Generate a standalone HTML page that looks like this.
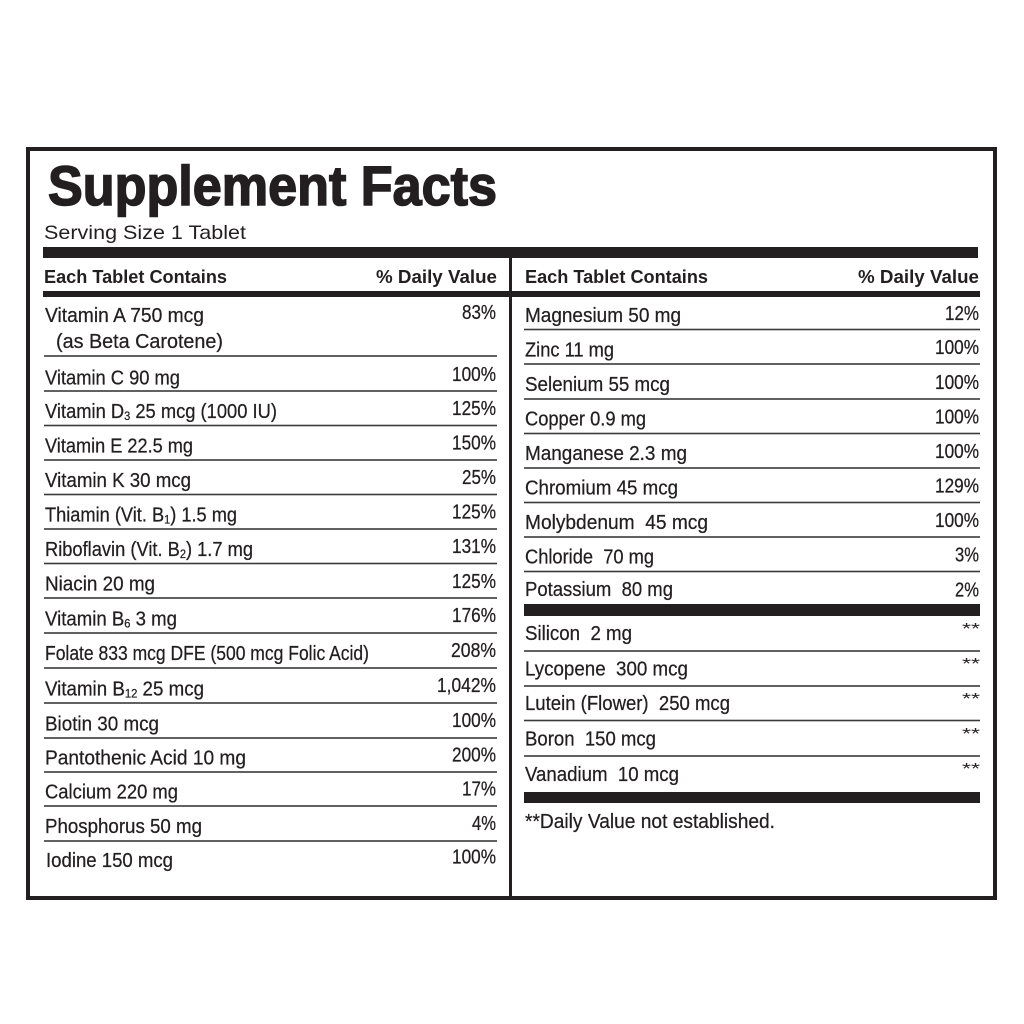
<!DOCTYPE html>
<html><head><meta charset="utf-8"><style>
html,body{margin:0;padding:0;background:#fff;}
svg{display:block;}
text{font-family:"Liberation Sans Narrow","Liberation Sans",Arial,sans-serif;fill:#231f20;white-space:pre;}
.n{font-size:20px;stroke:#231f20;stroke-width:0.25;}
.v{font-size:20px;text-anchor:end;stroke:#231f20;stroke-width:0.25;}
.a{font-size:16px;text-anchor:end;}
.h{font-size:18.5px;font-weight:bold;}
.st{font-size:12px;}
</style></head><body>
<svg width="1024" height="1024" viewBox="0 0 1024 1024" xmlns="http://www.w3.org/2000/svg">
<rect x="0" y="0" width="1024" height="1024" fill="#fff"/>
<rect x="28" y="149" width="967" height="749" fill="none" stroke="#231f20" stroke-width="4"/>
<text x="48" y="205" font-size="56" font-weight="bold" textLength="449" lengthAdjust="spacingAndGlyphs" stroke="#231f20" stroke-width="1.6" style="font-family:'Liberation Sans Narrow','Liberation Sans',Arial,sans-serif">Supplement Facts</text>
<text x="44" y="239" font-size="19.5" textLength="202" lengthAdjust="spacingAndGlyphs" style="font-family:'Liberation Sans',Arial,sans-serif">Serving Size 1 Tablet</text>
<rect x="43" y="247" width="935" height="11" fill="#231f20"/>
<rect x="43" y="291" width="937" height="6" fill="#231f20"/>
<rect x="509" y="258" width="3" height="639" fill="#231f20"/>
<rect x="524" y="604" width="456" height="12" fill="#231f20"/>
<rect x="524" y="792" width="456" height="11" fill="#231f20"/>
<text class="h" x="44" y="283" textLength="183" lengthAdjust="spacingAndGlyphs">Each Tablet Contains</text>
<text class="h" x="497" y="283" text-anchor="end" textLength="121" lengthAdjust="spacingAndGlyphs">% Daily Value</text>
<text class="h" x="525" y="283" textLength="183" lengthAdjust="spacingAndGlyphs">Each Tablet Contains</text>
<text class="h" x="979" y="283" text-anchor="end" textLength="121" lengthAdjust="spacingAndGlyphs">% Daily Value</text>
<g fill="#3a3a3a">
<rect x="44" y="355.2" width="453" height="1.6"/>
<rect x="44" y="390.2" width="453" height="1.6"/>
<rect x="44" y="424.7" width="453" height="1.6"/>
<rect x="44" y="459.2" width="453" height="1.6"/>
<rect x="44" y="493.7" width="453" height="1.6"/>
<rect x="44" y="528.2" width="453" height="1.6"/>
<rect x="44" y="562.7" width="453" height="1.6"/>
<rect x="44" y="597.2" width="453" height="1.6"/>
<rect x="44" y="632.2" width="453" height="1.6"/>
<rect x="44" y="667.2" width="453" height="1.6"/>
<rect x="44" y="702.2" width="453" height="1.6"/>
<rect x="44" y="737.2" width="453" height="1.6"/>
<rect x="44" y="771.2" width="453" height="1.6"/>
<rect x="44" y="805.2" width="453" height="1.6"/>
<rect x="44" y="840.2" width="453" height="1.6"/>
<rect x="524" y="328.7" width="456" height="1.6"/>
<rect x="524" y="363.2" width="456" height="1.6"/>
<rect x="524" y="398.2" width="456" height="1.6"/>
<rect x="524" y="432.7" width="456" height="1.6"/>
<rect x="524" y="467.2" width="456" height="1.6"/>
<rect x="524" y="501.7" width="456" height="1.6"/>
<rect x="524" y="536.2" width="456" height="1.6"/>
<rect x="524" y="570.7" width="456" height="1.6"/>
<rect x="524" y="650.2" width="456" height="1.6"/>
<rect x="524" y="685.2" width="456" height="1.6"/>
<rect x="524" y="719.7" width="456" height="1.6"/>
<rect x="524" y="755.2" width="456" height="1.6"/>
</g>
<text class="n" x="45" y="322" textLength="159" lengthAdjust="spacingAndGlyphs">Vitamin A 750 mcg</text>
<text class="n" x="56" y="348" textLength="167" lengthAdjust="spacingAndGlyphs">(as Beta Carotene)</text>
<text class="n" x="45" y="384.5" textLength="135" lengthAdjust="spacingAndGlyphs">Vitamin C 90 mg</text>
<text class="n" x="45" y="418" textLength="232" lengthAdjust="spacingAndGlyphs">Vitamin D<tspan class="st" dy="2">3</tspan><tspan dy="-2"> 25 mcg (1000 IU)</tspan></text>
<text class="n" x="45" y="452.5" textLength="148" lengthAdjust="spacingAndGlyphs">Vitamin E 22.5 mg</text>
<text class="n" x="45" y="487" textLength="146" lengthAdjust="spacingAndGlyphs">Vitamin K 30 mcg</text>
<text class="n" x="45" y="521.5" textLength="192" lengthAdjust="spacingAndGlyphs">Thiamin (Vit. B<tspan class="st" dy="2">1</tspan><tspan dy="-2">) 1.5 mg</tspan></text>
<text class="n" x="45" y="556" textLength="208" lengthAdjust="spacingAndGlyphs">Riboflavin (Vit. B<tspan class="st" dy="2">2</tspan><tspan dy="-2">) 1.7 mg</tspan></text>
<text class="n" x="45" y="590.5" textLength="110" lengthAdjust="spacingAndGlyphs">Niacin 20 mg</text>
<text class="n" x="45" y="625.5" textLength="132" lengthAdjust="spacingAndGlyphs">Vitamin B<tspan class="st" dy="2">6</tspan><tspan dy="-2"> 3 mg</tspan></text>
<text class="n" x="45" y="660" textLength="324" lengthAdjust="spacingAndGlyphs">Folate 833 mcg DFE (500 mcg Folic Acid)</text>
<text class="n" x="45" y="695.5" textLength="159" lengthAdjust="spacingAndGlyphs">Vitamin B<tspan class="st" dy="2">12</tspan><tspan dy="-2"> 25 mcg</tspan></text>
<text class="n" x="45" y="730.5" textLength="114" lengthAdjust="spacingAndGlyphs">Biotin 30 mcg</text>
<text class="n" x="45" y="764.5" textLength="201" lengthAdjust="spacingAndGlyphs">Pantothenic Acid 10 mg</text>
<text class="n" x="45" y="798.5" textLength="133" lengthAdjust="spacingAndGlyphs">Calcium 220 mg</text>
<text class="n" x="45" y="833" textLength="157" lengthAdjust="spacingAndGlyphs">Phosphorus 50 mg</text>
<text class="n" x="46" y="867" textLength="127" lengthAdjust="spacingAndGlyphs">Iodine 150 mcg</text>
<text class="v" x="496" y="319" textLength="34" lengthAdjust="spacingAndGlyphs">83%</text>
<text class="v" x="496" y="381" textLength="44" lengthAdjust="spacingAndGlyphs">100%</text>
<text class="v" x="496" y="415" textLength="44" lengthAdjust="spacingAndGlyphs">125%</text>
<text class="v" x="496" y="449.5" textLength="44" lengthAdjust="spacingAndGlyphs">150%</text>
<text class="v" x="496" y="484" textLength="34" lengthAdjust="spacingAndGlyphs">25%</text>
<text class="v" x="496" y="518.5" textLength="44" lengthAdjust="spacingAndGlyphs">125%</text>
<text class="v" x="496" y="553" textLength="44" lengthAdjust="spacingAndGlyphs">131%</text>
<text class="v" x="496" y="588" textLength="44" lengthAdjust="spacingAndGlyphs">125%</text>
<text class="v" x="496" y="622" textLength="44" lengthAdjust="spacingAndGlyphs">176%</text>
<text class="v" x="496" y="657" textLength="45" lengthAdjust="spacingAndGlyphs">208%</text>
<text class="v" x="496" y="692" textLength="59" lengthAdjust="spacingAndGlyphs">1,042%</text>
<text class="v" x="496" y="727" textLength="44" lengthAdjust="spacingAndGlyphs">100%</text>
<text class="v" x="496" y="761.5" textLength="44" lengthAdjust="spacingAndGlyphs">200%</text>
<text class="v" x="496" y="795.5" textLength="34" lengthAdjust="spacingAndGlyphs">17%</text>
<text class="v" x="496" y="830" textLength="24" lengthAdjust="spacingAndGlyphs">4%</text>
<text class="v" x="496" y="863.5" textLength="44" lengthAdjust="spacingAndGlyphs">100%</text>
<text class="n" x="525" y="322" textLength="156" lengthAdjust="spacingAndGlyphs">Magnesium 50 mg</text>
<text class="n" x="525" y="356.5" textLength="89" lengthAdjust="spacingAndGlyphs">Zinc 11 mg</text>
<text class="n" x="525" y="391" textLength="145" lengthAdjust="spacingAndGlyphs">Selenium 55 mcg</text>
<text class="n" x="525" y="425.5" textLength="121" lengthAdjust="spacingAndGlyphs">Copper 0.9 mg</text>
<text class="n" x="525" y="460" textLength="162" lengthAdjust="spacingAndGlyphs">Manganese 2.3 mg</text>
<text class="n" x="525" y="494.5" textLength="153" lengthAdjust="spacingAndGlyphs">Chromium 45 mcg</text>
<text class="n" x="525" y="529" textLength="183" lengthAdjust="spacingAndGlyphs">Molybdenum  45 mcg</text>
<text class="n" x="525" y="563.5" textLength="129" lengthAdjust="spacingAndGlyphs">Chloride  70 mg</text>
<text class="n" x="525" y="596" textLength="148" lengthAdjust="spacingAndGlyphs">Potassium  80 mg</text>
<text class="n" x="525" y="640" textLength="107" lengthAdjust="spacingAndGlyphs">Silicon  2 mg</text>
<text class="n" x="525" y="675.5" textLength="163" lengthAdjust="spacingAndGlyphs">Lycopene  300 mcg</text>
<text class="n" x="525" y="710" textLength="205" lengthAdjust="spacingAndGlyphs">Lutein (Flower)  250 mcg</text>
<text class="n" x="525" y="745.5" textLength="131" lengthAdjust="spacingAndGlyphs">Boron  150 mcg</text>
<text class="n" x="525" y="781" textLength="154" lengthAdjust="spacingAndGlyphs">Vanadium  10 mcg</text>
<text class="n" x="525" y="828" textLength="250" lengthAdjust="spacingAndGlyphs">**Daily Value not established.</text>
<text class="v" x="979" y="320" textLength="34" lengthAdjust="spacingAndGlyphs">12%</text>
<text class="v" x="979" y="354" textLength="44" lengthAdjust="spacingAndGlyphs">100%</text>
<text class="v" x="979" y="389" textLength="44" lengthAdjust="spacingAndGlyphs">100%</text>
<text class="v" x="979" y="423.5" textLength="44" lengthAdjust="spacingAndGlyphs">100%</text>
<text class="v" x="979" y="458" textLength="44" lengthAdjust="spacingAndGlyphs">100%</text>
<text class="v" x="979" y="492.5" textLength="44" lengthAdjust="spacingAndGlyphs">129%</text>
<text class="v" x="979" y="527" textLength="44" lengthAdjust="spacingAndGlyphs">100%</text>
<text class="v" x="979" y="561.5" textLength="24" lengthAdjust="spacingAndGlyphs">3%</text>
<text class="v" x="979" y="596.5" textLength="24" lengthAdjust="spacingAndGlyphs">2%</text>
<text class="a" x="980" y="634" textLength="18" lengthAdjust="spacingAndGlyphs">**</text>
<text class="a" x="980" y="669" textLength="18" lengthAdjust="spacingAndGlyphs">**</text>
<text class="a" x="980" y="704" textLength="18" lengthAdjust="spacingAndGlyphs">**</text>
<text class="a" x="980" y="739" textLength="18" lengthAdjust="spacingAndGlyphs">**</text>
<text class="a" x="980" y="774" textLength="18" lengthAdjust="spacingAndGlyphs">**</text>
</svg>
</body></html>
